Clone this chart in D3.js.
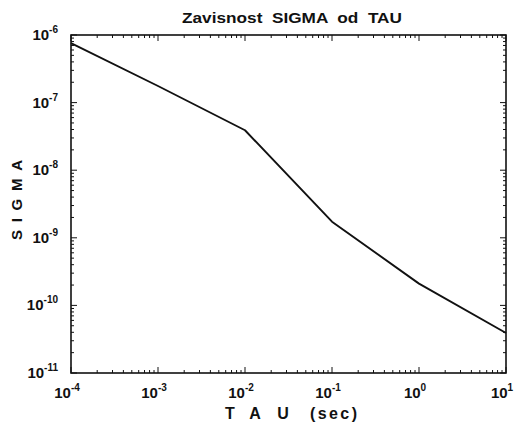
<!DOCTYPE html>
<html><head><meta charset="utf-8">
<script src="https://cdn.jsdelivr.net/npm/d3@7"></script>
<style>body{margin:0;background:#fff;} svg{display:block;} text{font-family:"Liberation Sans",Arial,sans-serif;fill:#111;}</style>
</head><body>
<svg id="c" width="516" height="425"></svg>
<script>
const tau = [1e-4, 1e-3, 1e-2, 1e-1, 1e0, 1e1];
const sigma = [7.6e-7, 1.76e-7, 3.9e-8, 1.73e-9, 2.1e-10, 3.9e-11];
const xTickExps = [-4, -3, -2, -1, 0, 1];
const yTickExps = [-11, -10, -9, -8, -7, -6];
const titleText = "Zavisnost  SIGMA  od  TAU";
const xLabelParts = ["T", "A", "U", "(sec)"];
const yLabelText = "SIGMA";

const L = 71, R = 506, T = 35, B = 373;
const svg = d3.select("#c");
const x = d3.scaleLog().domain([1e-4, 1e1]).range([L, R]);
const y = d3.scaleLog().domain([1e-11, 1e-6]).range([B, T]);

const xMinor = [], yMinor = [];
for (let e = -4; e < 1; e++) for (let m = 2; m <= 9; m++) xMinor.push(m * Math.pow(10, e));
for (let e = -11; e < -6; e++) for (let m = 2; m <= 9; m++) yMinor.push(m * Math.pow(10, e));

const g = svg.append("g").attr("stroke", "#111").attr("fill", "none");
g.append("rect").attr("x", L).attr("y", T).attr("width", R - L).attr("height", B - T).attr("stroke-width", 1.6);

function tickLines(vals, len) {
  vals.forEach(v => {
    const xx = x(v);
    g.append("line").attr("x1", xx).attr("x2", xx).attr("y1", B).attr("y2", B - len).attr("stroke-width", 1);
    g.append("line").attr("x1", xx).attr("x2", xx).attr("y1", T).attr("y2", T + len).attr("stroke-width", 1);
  });
}
function tickLinesY(vals, len) {
  vals.forEach(v => {
    const yy = y(v);
    g.append("line").attr("y1", yy).attr("y2", yy).attr("x1", L).attr("x2", L + len).attr("stroke-width", 1);
    g.append("line").attr("y1", yy).attr("y2", yy).attr("x1", R).attr("x2", R - len).attr("stroke-width", 1);
  });
}
tickLines(xMinor, 3);
tickLines(xTickExps.map(e => Math.pow(10, e)), 6);
tickLinesY(yMinor, 3);
tickLinesY(yTickExps.map(e => Math.pow(10, e)), 6);

const line = d3.line().x((d, i) => x(tau[i])).y(d => y(d));
svg.append("path").datum(sigma).attr("d", line).attr("fill", "none").attr("stroke", "#111").attr("stroke-width", 1.9).attr("stroke-linejoin", "round");

xTickExps.forEach(e => {
  const t = svg.append("text").attr("x", x(Math.pow(10, e)) - 4).attr("y", 398).attr("text-anchor", "middle").attr("font-size", 15).attr("font-weight", "bold");
  t.append("tspan").text("10");
  t.append("tspan").attr("dy", -7).attr("font-size", 10).text(String(e));
});
yTickExps.forEach(e => {
  const t = svg.append("text").attr("x", 58).attr("y", y(Math.pow(10, e)) + 5).attr("text-anchor", "end").attr("font-size", 15).attr("font-weight", "bold");
  t.append("tspan").text("10");
  t.append("tspan").attr("dy", -7).attr("font-size", 10).text(String(e));
});

// title
svg.append("text").attr("x", 182).attr("y", 23).attr("font-size", 15).attr("font-weight", "bold")
  .attr("textLength", 220).attr("lengthAdjust", "spacingAndGlyphs").style("white-space", "pre").text(titleText);

// x label
const xl = svg.append("text").attr("y", 419).attr("font-size", 16).attr("font-weight", "bold");
const xlPos = [230, 255, 283];
xLabelParts.slice(0, 3).forEach((p, i) => {
  svg.append("text").attr("x", xlPos[i]).attr("y", 419).attr("text-anchor", "middle").attr("font-size", 16).attr("font-weight", "bold").text(p);
});
svg.append("text").attr("x", 310).attr("y", 419).attr("font-size", 16).attr("font-weight", "bold")
  .attr("textLength", 47).attr("lengthAdjust", "spacing").text(xLabelParts[3]);
xl.remove();

// y label
svg.append("text").attr("transform", "translate(22,240) rotate(-90)").attr("font-size", 15).attr("font-weight", "bold")
  .attr("textLength", 80).attr("lengthAdjust", "spacing").text(yLabelText);
</script>
</body></html>
